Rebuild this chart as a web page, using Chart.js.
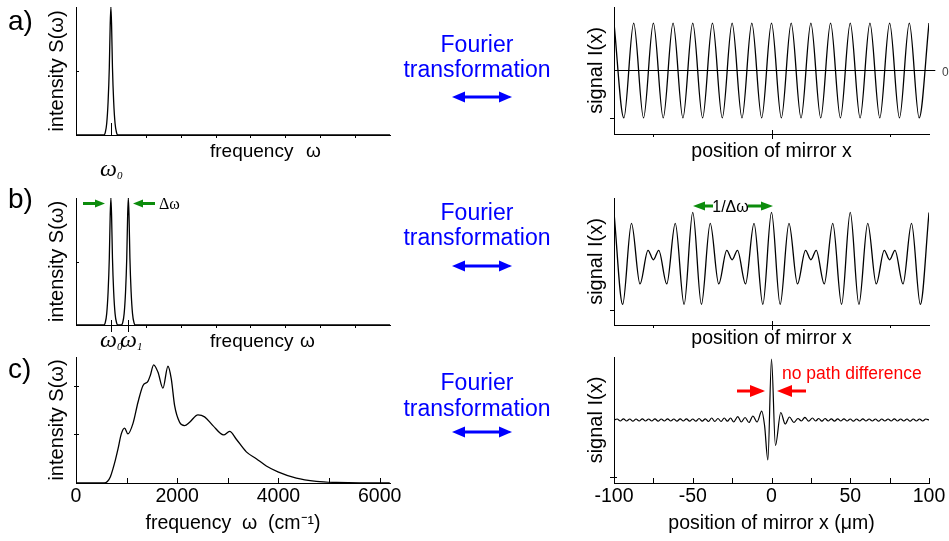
<!DOCTYPE html>
<html>
<head>
<meta charset="utf-8">
<script src="https://cdn.jsdelivr.net/npm/chart.js@4.4.1/dist/chart.umd.min.js"></script>
<style>
  html, body { margin: 0; padding: 0; background: #fff; overflow: hidden; }
  #page { position: relative; width: 949px; height: 541px; overflow: hidden; background: #fff; }
  #page canvas { position: absolute; }
  #notes { position: absolute; left: 0; top: 0; pointer-events: none; }
</style>
</head>
<body>
<div id="page">
  <canvas id="specA"></canvas>
  <canvas id="specB"></canvas>
  <canvas id="specC"></canvas>
  <canvas id="sigA"></canvas>
  <canvas id="sigB"></canvas>
  <canvas id="sigC"></canvas>
  <svg id="notes" width="949" height="541" viewBox="0 0 949 541">
    <g font-family="'Liberation Sans', Arial, sans-serif" fill="#000">
      <text x="8" y="30" font-size="28">a)</text>
      <text x="8" y="208" font-size="28">b)</text>
      <text x="8" y="378" font-size="28">c)</text>
      <text x="210" y="157" font-size="19">frequency</text>
      <text x="306" y="157" font-size="19">ω</text>
      <text x="210" y="347" font-size="19">frequency</text>
      <text x="300" y="347" font-size="19">ω</text>
    </g>
    <g font-family="'Liberation Serif', 'Times New Roman', serif" font-style="italic" fill="#000">
      <text x="100" y="176" font-size="24">ω<tspan font-size="11" dy="3">0</tspan></text>
      <text x="100" y="347" font-size="24">ω<tspan font-size="11" dy="3">0</tspan></text>
      <text x="120" y="347" font-size="24">ω<tspan font-size="11" dy="3">1</tspan></text>
    </g>
    <text x="159" y="209" font-size="16" font-family="'Liberation Serif', serif" fill="#000">Δω</text>
    <text x="942" y="76" font-size="12" font-family="'Liberation Sans', Arial, sans-serif" fill="#444">0</text>

    <!-- Fourier transformation captions with double arrows -->
    <g font-family="'Liberation Sans', Arial, sans-serif" font-size="23" fill="#0000ff" text-anchor="middle">
      <text x="477" y="52">Fourier</text>
      <text x="477" y="77">transformation</text>
      <text x="477" y="220">Fourier</text>
      <text x="477" y="245">transformation</text>
      <text x="477" y="390">Fourier</text>
      <text x="477" y="416">transformation</text>
    </g>
    <g fill="#0000ff" stroke="none">
      <rect x="462" y="95.5" width="40" height="3"/>
      <polygon points="452,97 465,91.5 465,102.5"/>
      <polygon points="512,97 499,91.5 499,102.5"/>
      <rect x="462" y="264.5" width="40" height="3"/>
      <polygon points="452,266 465,260.5 465,271.5"/>
      <polygon points="512,266 499,260.5 499,271.5"/>
      <rect x="462" y="430.5" width="40" height="3"/>
      <polygon points="452,432 465,426.5 465,437.5"/>
      <polygon points="512,432 499,426.5 499,437.5"/>
    </g>

    <!-- line spacing markers in b) -->
    <g fill="#0c8c0c">
      <rect x="83" y="202" width="13" height="3"/>
      <polygon points="105,203.5 95,199.5 95,207.5"/>
      <rect x="142" y="202" width="13" height="3"/>
      <polygon points="133,203.5 143,199.5 143,207.5"/>
      <polygon points="693,206 705,201.5 705,210.5"/>
      <rect x="704" y="204.5" width="9" height="3"/>
      <rect x="748" y="204.5" width="14" height="3"/>
      <polygon points="773,206 761,201.5 761,210.5"/>
    </g>
    <text x="730.5" y="211.5" font-size="16" text-anchor="middle" font-family="'Liberation Sans', Arial, sans-serif" fill="#000">1/Δω</text>

    <!-- zero path difference marker in c) -->
    <g fill="#ff0000">
      <rect x="737" y="389.5" width="14" height="3"/>
      <polygon points="765,391 750,385 750,397"/>
      <polygon points="777,391 792,385 792,397"/>
      <rect x="791" y="389.5" width="15" height="3"/>
    </g>
    <text x="782" y="379" font-size="17.5" font-family="'Liberation Sans', Arial, sans-serif" fill="#ff0000">no path difference</text>
  </svg>
</div>
<script>
// ---- spectra S(ω) ----
// a) single line at ω0 (frequency in units of the tick spacing)
const freqA = [0, 0.8, 0.84, 0.88, 0.92, 0.955, 0.98, 1.0, 1.02, 1.045, 1.08, 1.12, 1.16, 1.2, 9];
const intensityA = [0, 0, 0.02, 0.09, 0.26, 0.53, 0.86, 1.0, 0.86, 0.53, 0.26, 0.09, 0.02, 0, 0];

// b) two lines at ω0 and ω1
const freqB = [0, 0.8, 0.84, 0.88, 0.92, 0.955, 0.98, 1.0, 1.02, 1.045, 1.08, 1.12, 1.16, 1.2,
               1.3, 1.34, 1.38, 1.42, 1.455, 1.48, 1.5, 1.52, 1.545, 1.58, 1.62, 1.66, 1.7, 9];
const intensityB = [0, 0, 0.02, 0.09, 0.26, 0.53, 0.86, 1.0, 0.86, 0.53, 0.26, 0.09, 0.02, 0,
                    0, 0.02, 0.09, 0.26, 0.53, 0.86, 1.0, 0.86, 0.53, 0.26, 0.09, 0.02, 0, 0];

// c) broadband spectrum, ω in cm^-1
const freqC = [0, 560, 620, 680, 730, 780, 830, 895, 960, 1026, 1125, 1225, 1322, 1421, 1468, 1534,
               1619, 1718, 1817, 1883, 1949, 2047, 2146, 2245, 2410, 2541, 2706, 2917, 3036, 3168,
               3366, 3563, 3761, 3990, 4354, 4749, 5144, 5600, 6200];
const intensityC = [0, 0, 0.03, 0.13, 0.29, 0.48, 0.70, 1.01, 1.13, 1.01, 1.22, 1.66, 2.0, 2.09, 2.21, 2.43,
                    2.28, 1.95, 2.40, 2.14, 1.59, 1.25, 1.18, 1.25, 1.40, 1.36, 1.18, 0.99, 1.06, 0.90,
                    0.64, 0.50, 0.35, 0.23, 0.10, 0.035, 0.01, 0, 0];

// ---- interferograms I(x), mirror position x in µm ----
// a) single cosine: maxima and minima
const mirrorA = [-100, -93.75, -87.5, -81.25, -75, -68.75, -62.5, -56.25, -50, -43.75, -37.5, -31.25,
                 -25, -18.75, -12.5, -6.25, 0, 6.25, 12.5, 18.75, 25, 31.25, 37.5, 43.75, 50, 56.25,
                 62.5, 68.75, 75, 81.25, 87.5, 93.75, 100];
const signalA = [1, -1, 1, -1, 1, -1, 1, -1, 1, -1, 1, -1, 1, -1, 1, -1, 1, -1, 1, -1, 1, -1, 1, -1, 1, -1,
                 1, -1, 1, -1, 1, -1, 1];
const zeroLineX = [-100, 104];
const zeroLineY = [0, 0];

// b) beating of two lines: maxima and minima
const mirrorB = [-100, -94.5, -88.9, -83.5, -78.4, -75, -71.6, -66.5, -61.1, -55.5,
                 -50, -44.5, -38.9, -33.5, -28.4, -25, -21.6, -16.5, -11.1, -5.5,
                 0, 5.5, 11.1, 16.5, 21.6, 25, 28.4, 33.5, 38.9, 44.5,
                 50, 55.5, 61.1, 66.5, 71.6, 75, 78.4, 83.5, 88.9, 94.5, 100];
const signalB = [2, -1.88, 1.54, -1.015, 0.40, 0, 0.40, -1.015, 1.54, -1.88,
                 2, -1.88, 1.54, -1.015, 0.40, 0, 0.40, -1.015, 1.54, -1.88,
                 2, -1.88, 1.54, -1.015, 0.40, 0, 0.40, -1.015, 1.54, -1.88,
                 2, -1.88, 1.54, -1.015, 0.40, 0, 0.40, -1.015, 1.54, -1.88, 2];

// c) interferogram of the broadband spectrum
const mirrorC = [-100, -98, -96, -94, -92, -90, -88, -86, -84, -82, -80, -78, -76, -74, -72, -70, -68,
                 -66, -64, -62, -60, -58, -56, -54, -52, -50, -48, -46, -44, -42, -40, -38, -36, -34,
                 -32, -30, -28, -26, -24,
                 -21.4, -19.2, -16.8, -14.3, -11.8, -9.2, -6.2, -4.4, -2.3, 0,
                 2.5, 5.9, 8.7, 11.4, 14.2, 16.8, 19, 21.2, 23.6,
                 26, 28, 30, 32, 34, 36, 38, 40, 42, 44, 46, 48, 50, 52, 54, 56, 58, 60, 62, 64, 66,
                 68, 70, 72, 74, 76, 78, 80, 82, 84, 86, 88, 90, 92, 94, 96, 98, 100];
const signalC = [0, 0.1, -0.1, 0.12, -0.1, 0.1, -0.12, 0.1, -0.1, 0.12, -0.1, 0.1, -0.1, 0.12, -0.12, 0.1, -0.1,
                 0.12, -0.1, 0.1, -0.12, 0.12, -0.1, 0.12, -0.12, 0.1, -0.12, 0.15, -0.12, 0.12, -0.15, 0.2, -0.15, 0.15,
                 -0.15, 0.2, -0.12, 0.2, -0.2,
                 0.33, -0.2, 0.25, -0.25, 0.4, -0.2, 0.88, -0.55, -4.0, 6.1,
                 -2.55, 0.75, -0.4, 0.3, -0.25, 0.15, -0.1, 0.27, -0.12,
                 0.2, -0.1, 0.15, -0.12, 0.15, -0.1, 0.12, -0.12, 0.12, -0.1, 0.12, -0.1, 0.1, -0.12, 0.1, -0.1, 0.12, -0.1, 0.1, -0.1, 0.1,
                 -0.12, 0.1, -0.1, 0.1, -0.1, 0.12, -0.1, 0.1, -0.1, 0.1, -0.12, 0.1, -0.1, 0.1, -0.1, 0.1, 0];

// ---- axis ticks ----
const lineTicksA = [1];
const lineTicksB = [1, 1.5];
const freqMinorTicks = [2, 3, 4, 5, 6, 7, 8];
const freqTicksC = [1000, 2000, 3000, 4000, 5000, 6000];
const freqLabelsC = [0, 2000, 4000, 6000];
const intensityTicksAB = [0.5];
const intensityTicksC = [1, 2];
const mirrorCenterTick = [0];
const mirrorSideTicks = [-75, 75];
const mirrorTicksC = [-100, -75, -50, -25, 0, 25, 50, 75, 100];
const mirrorLabelsC = [-100, -50, 0, 50, 100];
const signalTickA = [-1];
const signalTickB = [-2.11];
const signalTickC = [-5.7];

const FONT = "'Liberation Sans', Arial, Helvetica, sans-serif";
Chart.defaults.font.family = FONT;
Chart.defaults.color = '#000';

// Short tick marks drawn on the axis lines at given values
const tickMarks = {
  id: 'tickMarks',
  afterDraw(chart, args, opts) {
    const ctx = chart.ctx, area = chart.chartArea;
    const xs = chart.scales.x, ys = chart.scales.y;
    ctx.save();
    ctx.strokeStyle = '#000';
    ctx.lineWidth = 1;
    (opts.x || []).forEach(g => g.values.forEach(v => {
      const px = Math.round(xs.getPixelForValue(v)) + 0.5;
      ctx.beginPath();
      ctx.moveTo(px, area.bottom - g.up);
      ctx.lineTo(px, area.bottom + g.down);
      ctx.stroke();
    }));
    (opts.y || []).forEach(g => g.values.forEach(v => {
      const py = Math.round(ys.getPixelForValue(v)) + 0.5;
      ctx.beginPath();
      ctx.moveTo(area.left - g.out, py);
      ctx.lineTo(area.left + g.in, py);
      ctx.stroke();
    }));
    ctx.restore();
  }
};

function series(xv, yv, extra) {
  return Object.assign({
    data: xv.map((v, i) => ({ x: v, y: yv[i] })),
    borderColor: '#000',
    borderWidth: 1.3,
    pointRadius: 0,
    fill: false,
    cubicInterpolationMode: 'monotone'
  }, extra || {});
}

function panel(p) {
  const cv = document.getElementById(p.id);
  const [cx, cy, cw, ch] = p.canvas;
  cv.style.left = cx + 'px';
  cv.style.top = cy + 'px';
  cv.width = cw;
  cv.height = ch;
  const yWidth = p.area.left - cx;
  const xHeight = cy + ch - p.area.bottom;
  return new Chart(cv, {
    type: 'line',
    data: { datasets: p.datasets },
    options: {
      responsive: false,
      animation: false,
      devicePixelRatio: 1,
      events: [],
      layout: { padding: { top: p.area.top - cy, right: cx + cw - p.area.right, left: 0, bottom: 0 } },
      plugins: { legend: { display: false }, tooltip: { enabled: false }, tickMarks: p.ticks },
      scales: {
        x: {
          type: 'linear', min: p.x.min, max: p.x.max,
          afterFit: s => { s.height = xHeight; },
          afterBuildTicks: s => { s.ticks = (p.x.tickValues || []).map(v => ({ value: v })); },
          grid: { display: false, drawTicks: false, tickLength: 0 },
          border: { display: true, color: '#000', width: 1 },
          ticks: {
            display: !!p.x.labels, autoSkip: false, maxRotation: 0, minRotation: 0,
            padding: 2, color: '#000', font: { family: FONT, size: 19.5 },
            callback: v => (p.x.labels && p.x.labels.includes(v)) ? String(v) : ''
          },
          title: {
            display: !!p.x.title, text: p.x.title || '', color: '#000',
            font: { family: FONT, size: 19.5 }, padding: { top: 0, bottom: p.x.titlePad || 0 }
          }
        },
        y: {
          type: 'linear', min: p.y.min, max: p.y.max,
          afterFit: s => { s.width = yWidth; },
          grid: { display: false, drawTicks: false, tickLength: 0 },
          border: { display: true, color: '#000', width: 1 },
          ticks: { display: false },
          title: {
            display: true, text: p.y.title, color: '#000',
            font: { family: FONT, size: 20 }, padding: { top: p.y.titlePad, bottom: 0 }
          }
        }
      }
    },
    plugins: [tickMarks]
  });
}

// ---- left column: spectra ----
panel({
  id: 'specA', canvas: [40, 0, 390, 170], area: { left: 76, top: 7, right: 390, bottom: 135 },
  x: { min: 0, max: 9 }, y: { min: 0, max: 1, title: 'intensity S(ω)', titlePad: 5 },
  datasets: [series(freqA, intensityA)],
  ticks: { x: [{ values: lineTicksA, up: 12, down: 0 }, { values: freqMinorTicks, up: 0, down: 3 }],
           y: [{ values: intensityTicksAB, in: 3, out: 0 }] }
});
panel({
  id: 'specB', canvas: [40, 180, 390, 175], area: { left: 76, top: 198, right: 390, bottom: 325 },
  x: { min: 0, max: 9 }, y: { min: 0, max: 1, title: 'intensity S(ω)', titlePad: 5 },
  datasets: [series(freqB, intensityB)],
  ticks: { x: [{ values: lineTicksB, up: 5, down: 7 }, { values: freqMinorTicks, up: 0, down: 3 }],
           y: [{ values: intensityTicksAB, in: 3, out: 0 }] }
});
panel({
  id: 'specC', canvas: [40, 350, 390, 191], area: { left: 76, top: 357, right: 390, bottom: 483 },
  x: { min: 0, max: 6205, tickValues: [0].concat(freqTicksC), labels: freqLabelsC,
       title: 'frequency  ω  (cm⁻¹)', titlePad: 6 },
  y: { min: 0, max: 2.59, title: 'intensity S(ω)', titlePad: 5 },
  datasets: [series(freqC, intensityC)],
  ticks: { x: [{ values: freqTicksC, up: 5, down: 0 }],
           y: [{ values: intensityTicksC, in: 3, out: 2 }] }
});

// ---- right column: interferograms ----
panel({
  id: 'sigA', canvas: [570, 0, 400, 170], area: { left: 614, top: 7, right: 929, bottom: 134 },
  x: { min: -100, max: 100, title: 'position of mirror x', titlePad: 7 },
  y: { min: -1.34, max: 1.34, title: 'signal I(x)', titlePad: 14 },
  datasets: [series(mirrorA, signalA),
             series(zeroLineX, zeroLineY, { borderWidth: 1, cubicInterpolationMode: 'default', tension: 0, clip: false })],
  ticks: { x: [{ values: mirrorCenterTick, up: 4, down: 5 }, { values: mirrorSideTicks, up: 0, down: 3 }],
           y: [{ values: signalTickA, in: 0, out: 4 }] }
});
panel({
  id: 'sigB', canvas: [570, 180, 400, 175], area: { left: 614, top: 198, right: 929, bottom: 325 },
  x: { min: -100, max: 100, title: 'position of mirror x', titlePad: 5 },
  y: { min: -2.75, max: 2.61, title: 'signal I(x)', titlePad: 14 },
  datasets: [series(mirrorB, signalB)],
  ticks: { x: [{ values: mirrorCenterTick, up: 4, down: 5 }, { values: mirrorSideTicks, up: 0, down: 3 }],
           y: [{ values: signalTickB, in: 0, out: 4 }] }
});
panel({
  id: 'sigC', canvas: [570, 350, 400, 191], area: { left: 614, top: 357, right: 929, bottom: 483 },
  x: { min: -100, max: 100, tickValues: mirrorTicksC, labels: mirrorLabelsC,
       title: 'position of mirror x (μm)', titlePad: 6 },
  y: { min: -6.3, max: 6.3, title: 'signal I(x)', titlePad: 14 },
  datasets: [series(mirrorC, signalC, { borderWidth: 1.2 })],
  ticks: { x: [{ values: mirrorTicksC, up: 5, down: 0 }],
           y: [{ values: signalTickC, in: 3, out: 4 }] }
});
</script>
</body>
</html>
